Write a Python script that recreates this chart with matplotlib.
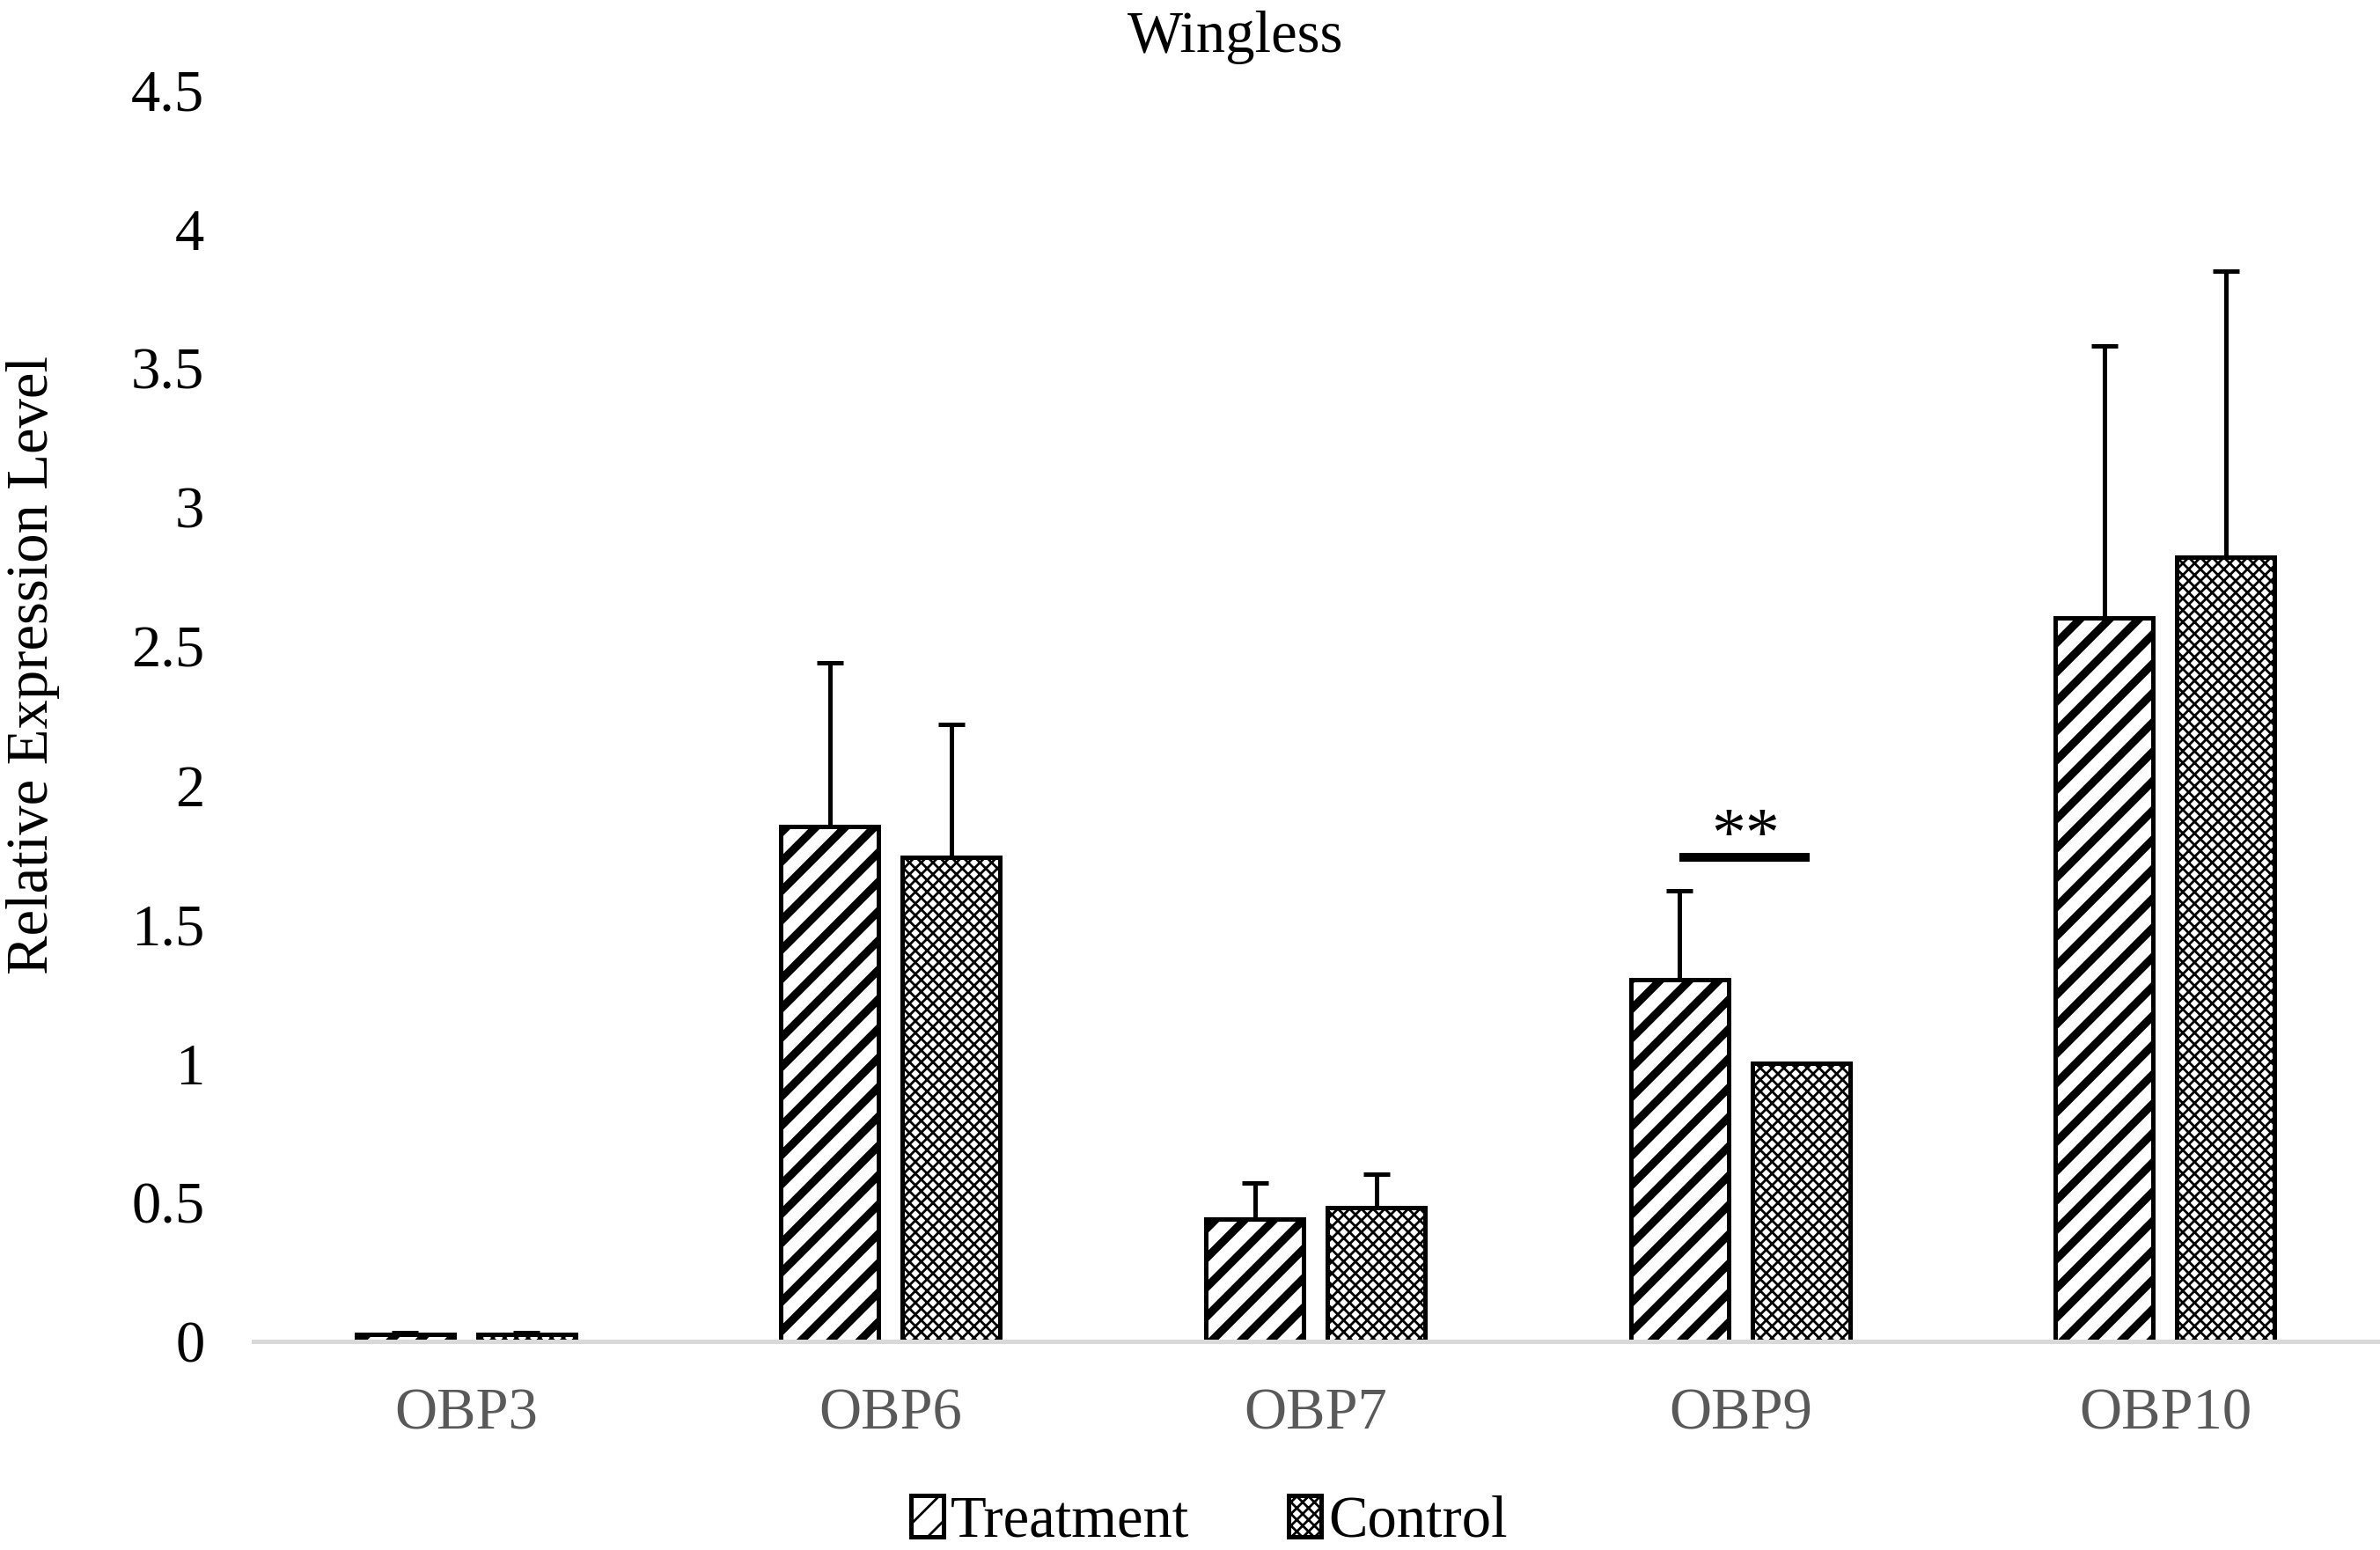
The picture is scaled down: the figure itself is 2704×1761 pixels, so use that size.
import numpy as np
import matplotlib
matplotlib.use("Agg")
import matplotlib.pyplot as plt

plt.rcParams["font.family"] = ["Liberation Serif", "DejaVu Serif"]

# data
genes = ["OBP3", "OBP6", "OBP7", "OBP9", "OBP10"]
treatment = [0.025, 1.85, 0.44, 1.30, 2.60]
treatment_err = [0.008, 0.59, 0.13, 0.32, 0.98]
control = [0.025, 1.74, 0.48, 1.00, 2.82]
control_err = [0.006, 0.48, 0.12, 0.00, 1.03]
yticks = [0, 0.5, 1, 1.5, 2, 2.5, 3, 3.5, 4, 4.5]
ytick_labels = ["0", "0.5", "1", "1.5", "2", "2.5", "3", "3.5", "4", "4.5"]
sig_gene = "OBP9"
sig_label = "**"

fig = plt.figure(figsize=(13.52, 8.805), dpi=200)
ax = fig.add_axes([0.1065, 0.1346, 0.8925, 0.8074])

x = np.arange(len(genes))
w = 0.23
off = 0.143


def hatched_bars(xpos, vals, hatch, hlw, label):
    with plt.rc_context({"hatch.linewidth": hlw}):
        bars = ax.bar(xpos, vals, w, facecolor="white", edgecolor="black",
                      linewidth=1.8, hatch=hatch, label=label, zorder=2)
        for b in bars:
            if hasattr(b, "set_hatch_linewidth"):
                b.set_hatch_linewidth(hlw)
    return bars


hatched_bars(x - off, treatment, "//", 3.3, "Treatment")
hatched_bars(x + off, control, "xxxxx", 1.0, "Control")

# upper error bars only
for xpos, vals, errs in [(x - off, treatment, treatment_err), (x + off, control, control_err)]:
    errs = np.array(errs)
    mask = errs > 0
    ax.errorbar(xpos[mask], np.array(vals)[mask],
                yerr=[np.zeros(mask.sum()), errs[mask]],
                fmt="none", ecolor="black", elinewidth=1.8,
                capsize=5.5, capthick=1.8, zorder=3)

# significance marker
i = genes.index(sig_gene)
ax.plot([i - off, i + off + 0.02], [1.741, 1.741], color="black", lw=3.6,
        solid_capstyle="butt", zorder=3)
ax.text(i + 0.012, 1.81, sig_label, ha="center", va="center", fontsize=28)

ax.set_xlim(-0.5, len(genes) - 0.5)
ax.set_ylim(0, 4.5)
ax.set_xticks(x)
ax.set_xticklabels(genes, fontsize=24, color="#595959")
ax.set_yticks(yticks)
ax.set_yticklabels(ytick_labels, fontsize=24)
ax.tick_params(axis="both", length=0)
ax.tick_params(axis="x", pad=19)
ax.tick_params(axis="y", pad=20)

for s in ["top", "right", "left"]:
    ax.spines[s].set_visible(False)
ax.spines["bottom"].set_color("#d9d9d9")
ax.spines["bottom"].set_linewidth(1.8)

fig.text(0.519, 0.976, "Wingless", ha="center", va="center", fontsize=24)
fig.text(0.014, 0.571, "Relative Expression Level", ha="center", va="center",
         rotation=90, fontsize=24)

fig.legend(loc="center", bbox_to_anchor=(0.508, 0.018), ncol=2, frameon=False,
           fontsize=24, handlelength=0.55, handleheight=0.7,
           handletextpad=0.12, columnspacing=1.7)

fig.savefig("out.png", dpi=200)
